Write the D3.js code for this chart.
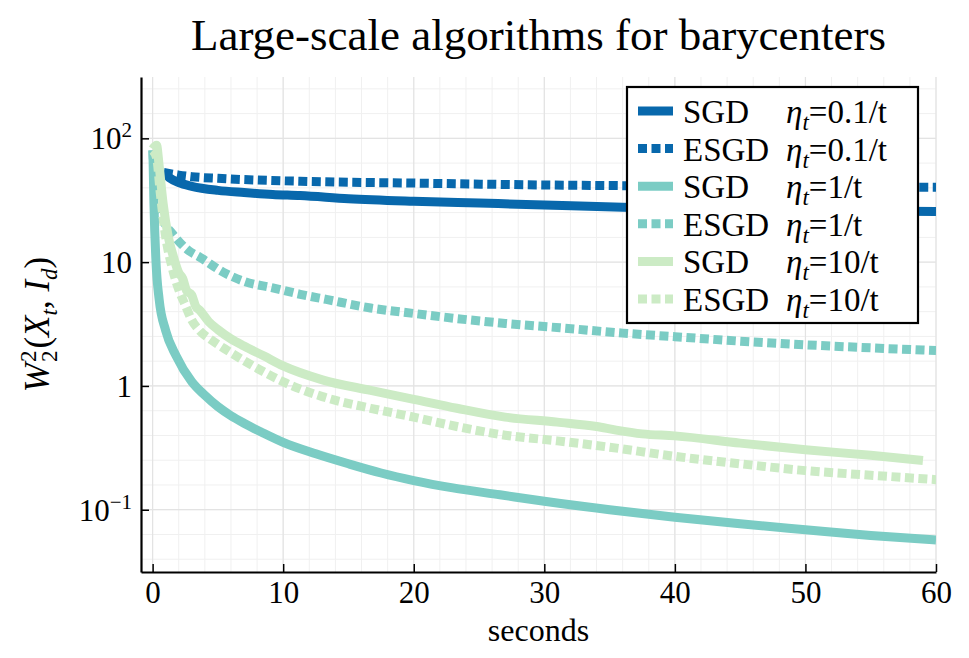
<!DOCTYPE html>
<html lang="en">
<head>
<meta charset="utf-8">
<title>Large-scale algorithms for barycenters</title>
<script src="https://cdnjs.cloudflare.com/ajax/libs/d3/7.8.5/d3.min.js"></script>
<style>
  body { margin: 0; background: #fff; }
  text { font-family: "Liberation Serif", "DejaVu Serif", serif; fill: #000; }
</style>
</head>
<body>
<script>

// values (seconds, W2^2 distance)
var sgd01T = [0.85, 1.3, 2, 3, 5, 7, 9.2, 11.3, 15, 20, 25, 30, 36, 40, 45, 50, 55, 60]
var sgd01V = [53, 48, 44, 41, 38, 36.5, 35.2, 34.5, 32.5, 31, 30, 29, 27.8, 27.3, 26.8, 26.4, 26, 25.6]

var esgd01T = [0.85, 2, 3, 5, 9, 11.3, 20, 30, 36, 45, 60]
var esgd01V = [53, 50.5, 49, 47.5, 45.7, 45, 43.5, 42, 41.5, 41, 40.3]

var sgd1T = [0.02, 0.1, 0.26, 0.5, 1.0, 1.8, 3, 4, 5, 6, 7, 8.5, 10, 12.5, 15, 17.5, 20, 23, 26.6, 30, 35, 40, 45, 50, 55, 60]
var sgd1V = [80, 30, 10, 5, 2.8, 1.75, 1.08, 0.84, 0.68, 0.575, 0.5, 0.415, 0.35, 0.283, 0.235, 0.198, 0.172, 0.15, 0.132, 0.117, 0.1, 0.087, 0.077, 0.069, 0.062, 0.057]

var esgd1T = [0.02, 0.1, 0.3, 0.6, 1.0, 1.5, 2.8, 3.6, 5.4, 7, 9.2, 11.3, 13.3, 16.7, 20, 23.3, 27, 31.2, 36, 40, 45, 50, 55, 60]
var esgd1V = [80, 55, 35, 25, 20, 17, 12.3, 11, 8.3, 7.0, 6.2, 5.5, 5.0, 4.26, 3.85, 3.5, 3.2, 2.95, 2.67, 2.5, 2.3, 2.15, 2.03, 1.93]

var sgd10T = [0, 0.3, 0.5, 0.8, 1.2, 1.6, 2.0, 2.3, 2.6, 3.0, 3.3, 3.6, 4.3, 5, 6, 7, 8.5, 10, 13, 16.7, 20, 23.3, 27, 31, 34, 35.5, 37.5, 40, 45, 50, 55, 59]
var sgd10V = [82, 88, 60, 30, 16, 11, 8.2, 7.4, 5.9, 5.4, 4.4, 4.1, 3.3, 2.85, 2.4, 2.1, 1.75, 1.45, 1.12, 0.92, 0.78, 0.66, 0.56, 0.51, 0.47, 0.44, 0.41, 0.395, 0.345, 0.305, 0.275, 0.25]

var esgd10T = [0, 0.3, 0.6, 1, 1.5, 2, 2.5, 3, 3.6, 4.5, 5.5, 7, 8.5, 10, 13, 16.7, 20, 23.3, 27, 31, 35, 40, 45, 50, 55, 60]
var esgd10V = [80, 70, 35, 16, 9, 6, 4.5, 3.4, 2.8, 2.35, 2.0, 1.6, 1.3, 1.08, 0.82, 0.66, 0.56, 0.47, 0.40, 0.36, 0.32, 0.27, 0.235, 0.207, 0.19, 0.175]

// legend / series labels
var methodNames = ["SGD", "ESGD", "SGD", "ESGD", "SGD", "ESGD"]
var stepLabels = ["=0.1/t", "=0.1/t", "=1/t", "=1/t", "=10/t", "=10/t"]

// tick labels
var xTicks = [0, 10, 20, 30, 40, 50, 60]
var yTicks = [0.1, 1, 10, 100]
var yTickBase = ["10", "1", "10", "10"]
var yTickSup = ["\u22121", "", "", "2"]

var title = "Large-scale algorithms for barycenters"
var xLabel = "seconds"

drawChart()

function drawChart() {
    var w = 969
    var h = 658
    var left = 141, right = 936, top = 77, bottom = 572

    var svg = d3.select("body").append("svg").attr("width", w).attr("height", h)

    var xScale = d3.scaleLinear().domain([-0.89, 60]).range([left, right])
    var yScale = d3.scaleLog().domain([0.0314, 313]).range([bottom, top])

    var colors = ["#0868ac", "#0868ac", "#7bccc4", "#7bccc4", "#ccebc5", "#ccebc5"]
    var dashed = [false, true, false, true, false, true]

    // pack the arrays into point lists
    var allT = [sgd01T, esgd01T, sgd1T, esgd1T, sgd10T, esgd10T]
    var allV = [sgd01V, esgd01V, sgd1V, esgd1V, sgd10V, esgd10V]
    var series = allT.map(function(ts, i) {
        return ts.map(function(t, j) { return [t, allV[i][j]] })
    })

    // grid: minor first, then major
    var grid = svg.append("g")
    var minorX = d3.range(0, 61, 2)
    var minorY = d3.range(-14, 25, 2).map(function(k) { return Math.pow(10, k / 10) })

    grid.selectAll(".mx").data(minorX).enter().append("line")
        .attr("x1", function(d) { return xScale(d) }).attr("x2", function(d) { return xScale(d) })
        .attr("y1", top).attr("y2", bottom)
        .attr("stroke", "#f0f0f0").attr("stroke-width", 1)
    grid.selectAll(".my").data(minorY).enter().append("line")
        .attr("y1", function(d) { return yScale(d) }).attr("y2", function(d) { return yScale(d) })
        .attr("x1", left).attr("x2", right)
        .attr("stroke", "#f0f0f0").attr("stroke-width", 1)
    grid.selectAll(".MX").data(xTicks).enter().append("line")
        .attr("x1", function(d) { return xScale(d) }).attr("x2", function(d) { return xScale(d) })
        .attr("y1", top).attr("y2", bottom)
        .attr("stroke", "#e3e3e3").attr("stroke-width", 1.2)
    grid.selectAll(".MY").data(yTicks).enter().append("line")
        .attr("y1", function(d) { return yScale(d) }).attr("y2", function(d) { return yScale(d) })
        .attr("x1", left).attr("x2", right)
        .attr("stroke", "#e3e3e3").attr("stroke-width", 1.2)

    // clip the curves to the plot area
    svg.append("clipPath").attr("id", "plotclip").append("rect")
        .attr("x", left).attr("y", top).attr("width", right - left).attr("height", bottom - top)

    var line = d3.line()
        .x(function(d) { return xScale(d[0]) })
        .y(function(d) { return yScale(d[1]) })
        .curve(d3.curveMonotoneX)

    svg.append("g").attr("clip-path", "url(#plotclip)")
        .selectAll("path").data(series).enter().append("path")
        .attr("d", line)
        .attr("fill", "none")
        .attr("stroke", function(d, i) { return colors[i] })
        .attr("stroke-width", 9)
        .attr("stroke-linejoin", "round")
        .attr("stroke-dasharray", function(d, i) { return dashed[i] ? "9,4.5" : null })

    // axes - ticks point inward
    var xAxis = d3.axisBottom(xScale).tickValues(xTicks).tickSizeInner(-8).tickSizeOuter(0).tickPadding(9)
    var gx = svg.append("g").attr("transform", "translate(0," + bottom + ")").call(xAxis)
    gx.selectAll("text").style("font-size", "31px").style("font-family", "Liberation Serif")
    gx.select(".domain").attr("stroke-width", 2.2)
    gx.selectAll(".tick line").attr("stroke-width", 1.5)

    var yAxis = d3.axisLeft(yScale).tickValues(yTicks).tickSizeInner(-8).tickSizeOuter(0).tickFormat("")
    var gy = svg.append("g").attr("transform", "translate(" + left + ",0)").call(yAxis)
    gy.select(".domain").attr("stroke-width", 2.2)
    gy.selectAll(".tick line").attr("stroke-width", 1.5)

    // y tick labels with superscripts
    yTicks.forEach(function(v, i) {
        var t = svg.append("text")
            .attr("x", 132).attr("y", yScale(v) + 11)
            .attr("text-anchor", "end")
            .style("font-size", "31px")
        t.append("tspan").text(yTickBase[i])
        if (yTickSup[i] != "") {
            t.append("tspan").attr("dy", -12).style("font-size", "21px").text(yTickSup[i])
        }
    })

    // title and x label
    svg.append("text").attr("x", (left + right) / 2).attr("y", 50)
        .attr("text-anchor", "middle").style("font-size", "45px").text(title)
    svg.append("text").attr("x", (left + right) / 2).attr("y", 641)
        .attr("text-anchor", "middle").style("font-size", "32px").text(xLabel)

    // y label  W_2^2(X_t, I_d)
    var yl = svg.append("text")
        .attr("transform", "translate(49," + (top + bottom) / 2 + ") rotate(-90)")
        .attr("text-anchor", "middle")
        .style("font-size", "35px")
    yl.append("tspan").style("font-style", "italic").text("W")
    yl.append("tspan").attr("dx", 1).attr("dy", -13).style("font-size", "23px").text("2")
    yl.append("tspan").attr("dx", -11.5).attr("dy", 21).style("font-size", "23px").text("2")
    yl.append("tspan").attr("dx", 2).attr("dy", -8).text("(")
    yl.append("tspan").style("font-style", "italic").text("X")
    yl.append("tspan").attr("dy", 8).style("font-size", "23px").style("font-style", "italic").text("t")
    yl.append("tspan").attr("dy", -8).text(", ")
    yl.append("tspan").style("font-style", "italic").text("I")
    yl.append("tspan").attr("dy", 8).style("font-size", "23px").style("font-style", "italic").text("d")
    yl.append("tspan").attr("dy", -8).text(")")

    // legend
    var lg = svg.append("g")
    lg.append("rect").attr("x", 627).attr("y", 87).attr("width", 291).attr("height", 236)
        .attr("fill", "#fff").attr("stroke", "#000").attr("stroke-width", 2.2)

    var rows = lg.selectAll(".row").data(methodNames).enter().append("g")
        .attr("transform", function(d, i) { return "translate(0," + (111 + i * 37.6) + ")" })

    rows.append("line").attr("x1", 638).attr("x2", 673).attr("y1", 0).attr("y2", 0)
        .attr("stroke", function(d, i) { return colors[i] })
        .attr("stroke-width", 9)
        .attr("stroke-dasharray", function(d, i) { return dashed[i] ? "9,4.5" : null })

    rows.append("text").attr("x", 683).attr("y", 12).style("font-size", "33px")
        .text(function(d) { return d })

    var eq = rows.append("text").attr("x", 786).attr("y", 12).style("font-size", "33px")
    eq.append("tspan").style("font-style", "italic").text("\u03b7")
    eq.append("tspan").attr("dy", 7).style("font-size", "23px").style("font-style", "italic").text("t")
    eq.append("tspan").attr("dy", -7).text(function(d, i) { return stepLabels[i] })
}

</script>
</body>
</html>
